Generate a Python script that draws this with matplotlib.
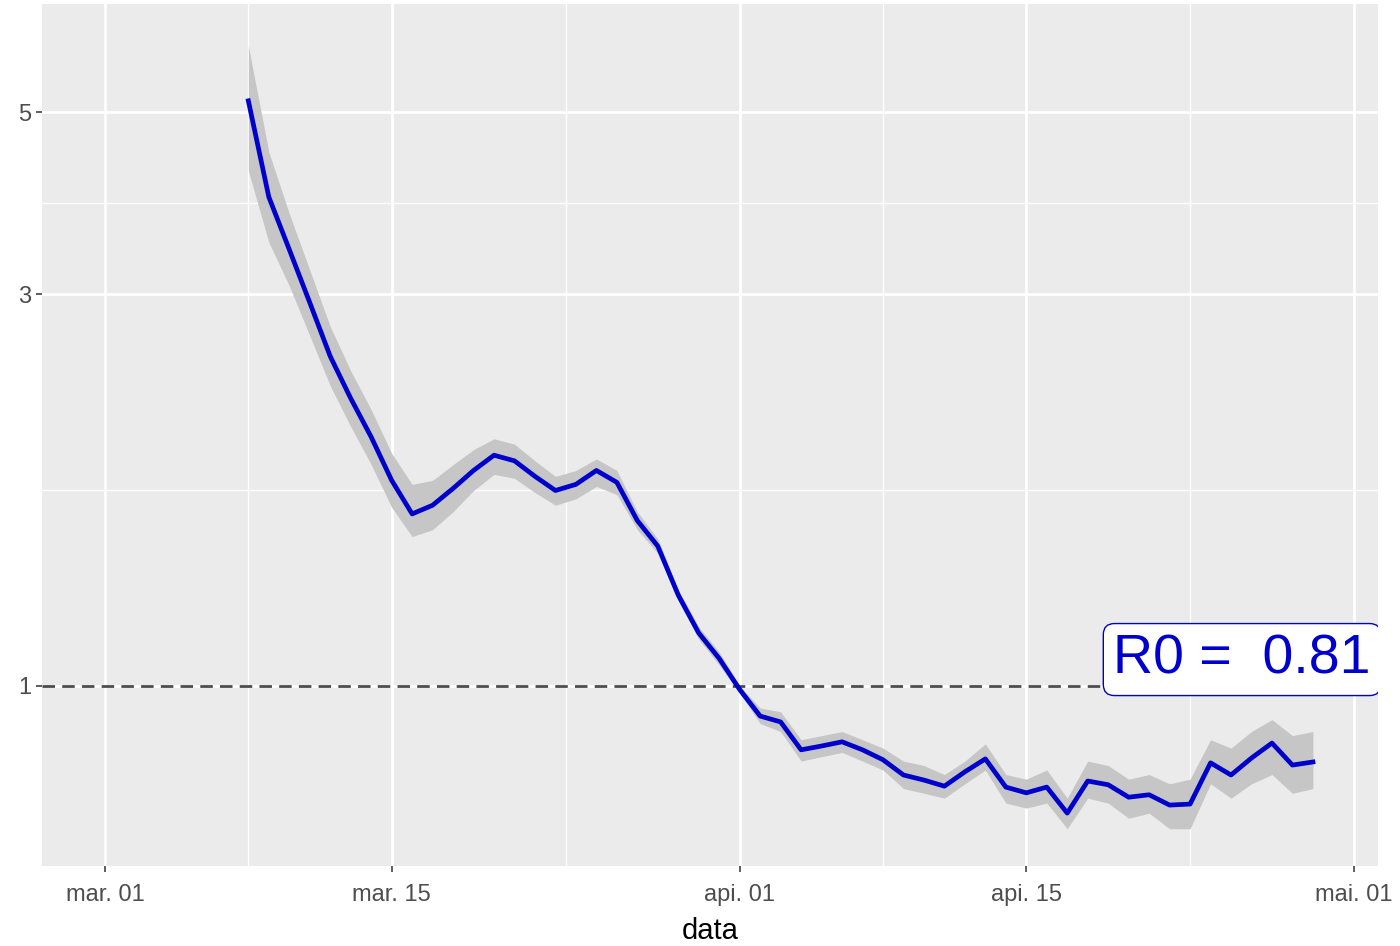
import numpy as np
import pandas as pd
import matplotlib
matplotlib.use('Agg')
import matplotlib.pyplot as plt
from matplotlib.ticker import FixedLocator, NullFormatter

plt.rcParams['font.family'] = ['Liberation Sans', 'DejaVu Sans']

# ---------- data ----------
start_date = '2020-03-08'
r_mean = [5.16, 3.94, 3.40, 2.93, 2.52, 2.24, 2.01, 1.78, 1.62, 1.66,
          1.74, 1.83, 1.91, 1.88, 1.80, 1.73, 1.76, 1.83, 1.77, 1.59,
          1.48, 1.29, 1.16, 1.08, 0.99, 0.919, 0.904, 0.836, 0.845, 0.855,
          0.836, 0.813, 0.779, 0.768, 0.755, 0.786, 0.815, 0.753, 0.741, 0.753,
          0.700, 0.766, 0.758, 0.732, 0.737, 0.716, 0.718, 0.806, 0.779, 0.817,
          0.852, 0.801, 0.808]
r_low = [4.24, 3.47, 3.07, 2.67, 2.32, 2.07, 1.86, 1.65, 1.52, 1.55,
         1.63, 1.73, 1.81, 1.79, 1.72, 1.66, 1.69, 1.75, 1.71, 1.55,
         1.45, 1.27, 1.14, 1.06, 0.98, 0.90, 0.88, 0.81, 0.82, 0.83,
         0.81, 0.79, 0.75, 0.74, 0.73, 0.76, 0.79, 0.72, 0.71, 0.72,
         0.67, 0.73, 0.72, 0.69, 0.70, 0.67, 0.67, 0.76, 0.73, 0.76,
         0.78, 0.74, 0.75]
r_high = [6.02, 4.47, 3.76, 3.21, 2.74, 2.42, 2.17, 1.92, 1.76, 1.78,
          1.86, 1.94, 2.00, 1.97, 1.88, 1.80, 1.83, 1.89, 1.83, 1.63,
          1.51, 1.31, 1.18, 1.10, 1.00, 0.94, 0.93, 0.86, 0.87, 0.88,
          0.86, 0.84, 0.81, 0.80, 0.78, 0.81, 0.85, 0.78, 0.77, 0.79,
          0.73, 0.81, 0.80, 0.77, 0.78, 0.76, 0.77, 0.86, 0.84, 0.88,
          0.91, 0.87, 0.88]
dates = pd.date_range(start_date, periods=len(r_mean), freq='D')

tick_dates = pd.to_datetime(['2020-03-01', '2020-03-15', '2020-04-01',
                             '2020-04-15', '2020-05-01'])
tick_labels = ['mar. 01', 'mar. 15', 'api. 01', 'api. 15', 'mai. 01']
minor_dates = pd.to_datetime(['2020-03-08 00:00', '2020-03-23 12:00',
                              '2020-04-08 00:00', '2020-04-23 00:00'])
y_ticks = [1, 3, 5]
r0_text = 'R0 =  0.81'
label_date = pd.Timestamp('2020-04-19 06:00')
# -------------------------------------------------

fig = plt.figure(figsize=(14, 9.46), dpi=100)
ax = fig.add_axes([0.030, 0.0846, 0.954, 0.9112])
ax.set_facecolor('#EBEBEB')
for s in ax.spines.values():
    s.set_visible(False)

ax.set_yscale('log')
ax.set_ylim(0.6036, 6.77)
ax.set_xlim(pd.Timestamp('2020-03-01') - pd.Timedelta(days=3.08),
            pd.Timestamp('2020-03-01') + pd.Timedelta(days=62.16))

# ticks + grid, ggplot look
ax.yaxis.set_major_locator(FixedLocator(y_ticks))
ax.yaxis.set_major_formatter(plt.FixedFormatter([str(v) for v in y_ticks]))
ax.yaxis.set_minor_locator(FixedLocator([np.sqrt(3), np.sqrt(15)]))
ax.yaxis.set_minor_formatter(NullFormatter())
ax.set_xticks(tick_dates)
ax.set_xticklabels(tick_labels)
ax.set_xticks(minor_dates, minor=True)
ax.set_axisbelow(True)
ax.grid(which='major', color='white', linewidth=2.0)
ax.grid(which='minor', color='white', linewidth=1.0)
ax.tick_params(which='major', length=4, width=1.1, color='#333333',
               labelcolor='#4D4D4D', labelsize=17, pad=4)
ax.tick_params(axis='x', which='major', pad=9)
ax.tick_params(which='minor', length=0)

# ribbon + line
ax.fill_between(dates, r_low, r_high, color='#C6C6C6', linewidth=0, zorder=2)
ax.plot(dates, r_mean, color='#0000CD', linewidth=3.4, zorder=3)

# reference line at R = 1
ax.axhline(1, color='#4D4D4D', linewidth=2.0, linestyle=(0, (4.5, 2.6)), zorder=2.5)

# label
ax.annotate(r0_text, xy=(label_date, 1), xytext=(0, 19), textcoords='offset points',
            ha='left', va='center', fontsize=40, color='#0000CD', zorder=5,
            clip_on=True,
            bbox=dict(boxstyle='round,pad=0.18,rounding_size=0.2', fc='white',
                      ec='#0000CD', lw=1.0))

ax.set_xlabel('data', fontsize=21, color='black', labelpad=8)

fig.savefig('out.png', dpi=100)
